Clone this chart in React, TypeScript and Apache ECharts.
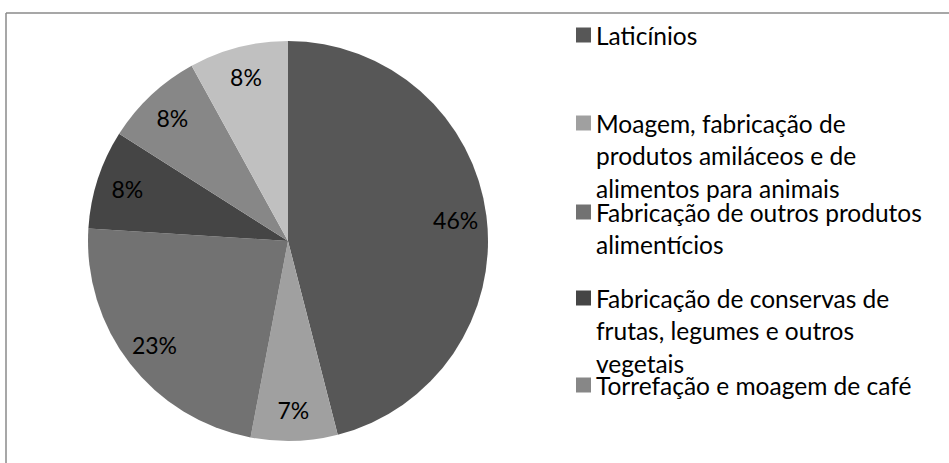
import React, { useEffect, useRef } from "react";
import * as echarts from "echarts";

const CATEGORIES = [
  "Laticínios",
  "Moagem, fabricação de produtos amiláceos e de alimentos para animais",
  "Fabricação de outros produtos alimentícios",
  "Fabricação de conservas de frutas, legumes e outros vegetais",
  "Torrefação e moagem de café",
  "Outros",
];
const SHARES = [46, 7, 23, 8, 8, 8];
const COLORS = ["#575757", "#a0a0a0", "#727272", "#454545", "#878787", "#c0c0c0"];
const LEGEND_LINES = [
  ["Laticínios"],
  ["Moagem, fabricação de", "produtos amiláceos e de", "alimentos para animais"],
  ["Fabricação de outros produtos", "alimentícios"],
  ["Fabricação de conservas de", "frutas, legumes e outros", "vegetais"],
  ["Torrefação e moagem de café"],
];
const LEGEND_Y = [35, 123, 212, 298, 385];
const LINE_H = 32.5;
const FONT = "Lato, 'Open Sans', sans-serif";

export default function App() {
  const ref = useRef<HTMLDivElement>(null);
  useEffect(() => {
    if (!ref.current) return;
    const chart = echarts.init(ref.current, undefined, { renderer: "svg" });
    const data = CATEGORIES.map((name, i) => ({
      name,
      value: SHARES[i],
      itemStyle: { color: COLORS[i] },
    }));
    const legends = LEGEND_LINES.map((lines, i) => {
      const total = 2 * lines.length - 1;
      return {
        data: [CATEGORIES[i]],
        orient: "vertical",
        left: 576,
        top: LEGEND_Y[i] - (total * LINE_H) / 2,
        padding: 0,
        icon: "rect",
        itemWidth: 15,
        itemHeight: 15,
        itemGap: 5,
        selectedMode: false,
        formatter: (name: string) => {
          const idx = CATEGORIES.indexOf(name);
          const ls = LEGEND_LINES[idx];
          const pad = new Array(ls.length - 1).fill("");
          return [...pad, ...ls].join("\n");
        },
        textStyle: {
          fontFamily: FONT,
          fontSize: 24.5,
          color: "#000",
          lineHeight: LINE_H,
          padding: [0, 0, 0, 0],
        },
      };
    });
    chart.setOption({
      animation: false,
      backgroundColor: "#ffffff",
      legend: legends,
      graphic: [
        { type: "line", shape: { x1: 6, y1: 13, x2: 949, y2: 13 }, style: { stroke: "#8a8a8a", lineWidth: 1.5 } },
        { type: "line", shape: { x1: 6, y1: 13, x2: 6, y2: 463 }, style: { stroke: "#8a8a8a", lineWidth: 1.5 } },
      ],
      series: [
        {
          type: "pie",
          center: [288, 241],
          radius: [0, 200],
          startAngle: 90,
          clockwise: true,
          data,
          label: { show: false },
          labelLine: { show: false },
          itemStyle: { borderWidth: 0 },
          emphasis: { disabled: true },
          silent: true,
        },
        {
          type: "pie",
          center: [288, 241],
          radius: [132, 200],
          startAngle: 90,
          clockwise: true,
          data: CATEGORIES.map((name, i) => ({ name, value: SHARES[i] })),
          itemStyle: { color: "rgba(0,0,0,0)", borderWidth: 0 },
          label: {
            show: true,
            position: "inside",
            formatter: "{c}%",
            fontFamily: FONT,
            fontSize: 23,
            color: "#000",
          },
          labelLine: { show: false },
          emphasis: { disabled: true },
          silent: true,
          z: 3,
        },
      ],
    });
    return () => chart.dispose();
  }, []);
  return (
    <div
      ref={ref}
      style={{ position: "fixed", left: 0, top: 0, width: 949, height: 463, background: "#fff" }}
    />
  );
}
